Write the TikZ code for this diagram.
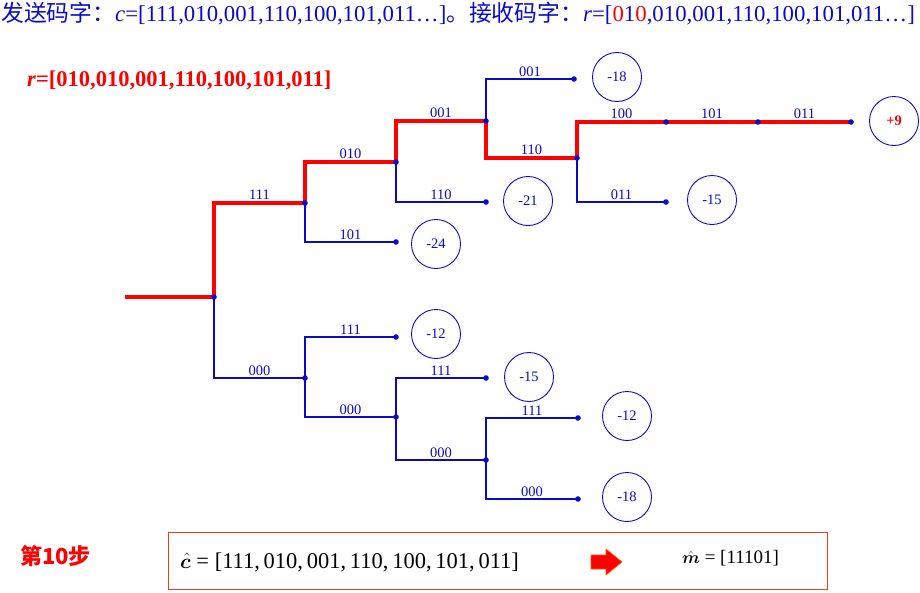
\documentclass[tikz,border=0pt]{standalone}
\usepackage{fontspec}
\usepackage{bm}
\setmainfont{Liberation Serif}
\newfontfamily\cjk{Noto Sans CJK SC}
\definecolor{tblue}{RGB}{10,10,200}
\definecolor{tred}{RGB}{255,0,0}
\definecolor{boxred}{RGB}{240,60,20}
\tikzset{
  br/.style={draw=tblue, line width=1.2pt},
  hot/.style={draw=tred, line width=3.4pt},
  lab/.style={font=\fontsize{14.5}{15}\selectfont, text=tblue, above, inner sep=2pt},
  met/.style={circle, draw=tblue, line width=0.9pt, minimum size=49pt, inner sep=0pt, text=tblue, font=\fontsize{14.5}{15}\selectfont},
}
\begin{document}
\begin{tikzpicture}[x=1pt,y=-1pt]
\useasboundingbox (0,0) rectangle (920,592);
% coordinates
\coordinate (s0) at (125,297);
\coordinate (a) at (214,297);
\coordinate (b) at (305,203);
\coordinate (c) at (305,378);
\coordinate (d) at (396,162);
\coordinate (e) at (396,242);
\coordinate (f) at (486,121);
\coordinate (g) at (486,202);
\coordinate (h) at (574,79);
\coordinate (i) at (577,158);
\coordinate (j) at (666,122);
\coordinate (k) at (758,122);
\coordinate (l) at (851,122);
\coordinate (m) at (666,202);
\coordinate (n) at (396,337);
\coordinate (o) at (396,417);
\coordinate (p) at (486,378);
\coordinate (q) at (486,460);
\coordinate (s) at (578,418);
\coordinate (t) at (578,499);
% blue branches
\draw[br] (b) |- (e) node[lab, pos=0.75] {101};
\draw[br] (d) |- (g) node[lab, pos=0.75] {110};
\draw[br] (f) |- (h) node[lab, pos=0.75] {001};
\draw[br] (i) |- (m) node[lab, pos=0.75] {011};
\draw[br] (a) |- (c) node[lab, pos=0.75] {000};
\draw[br] (c) |- (n) node[lab, pos=0.75] {111};
\draw[br] (c) |- (o) node[lab, pos=0.75] {000};
\draw[br] (o) |- (p) node[lab, pos=0.75] {111};
\draw[br] (o) |- (q) node[lab, pos=0.75] {000};
\draw[br] (q) |- (s) node[lab, pos=0.75] {111};
\draw[br] (q) |- (t) node[lab, pos=0.75] {000};
% red survivor path
\draw[hot] (s0) -- (a);
\draw[hot] (a) |- (b) node[lab, pos=0.75] {111};
\draw[hot] (b) |- (d) node[lab, pos=0.75] {010};
\draw[hot] (d) |- (f) node[lab, pos=0.75] {001};
\draw[hot] (f) |- (i) node[lab, pos=0.75] {110};
\draw[hot] (i) |- (j) node[lab, pos=0.75] {100};
\draw[hot] (j) -- (k) node[lab, midway] {101};
\draw[hot] (k) -- (l) node[lab, midway] {011};
% dots
\foreach \p in {a,b,c,d,e,f,g,h,i,j,k,l,m,n,o,p,q,s,t}
  \fill[tblue] (\p) circle (2.8);
% metric circles
\node[met] (ce) at (436,244) {-24};
\node[met] (cg) at (528,201) {-21};
\node[met] (ch) at (617,77) {-18};
\node[met] (cm) at (712,200) {-15};
\node[met, text=tred, font=\fontsize{14.5}{15}\selectfont\bfseries] (cl) at (894,121) {+9};
\node[met] (cn) at (436,334) {-12};
\node[met] (cp) at (529,377) {-15};
\node[met] (cs) at (627,416) {-12};
\node[met] (ct) at (627,497) {-18};
% title
\node[anchor=west, inner sep=0pt, text=tblue, font=\fontsize{22.8}{24}\selectfont] (title) at (1,14)
  {{\cjk 发送码字：}\textit{c}=[111,010,001,110,100,101,011…]{\cjk 。接收码字：}\textit{r}=[\textcolor{tred}{0}1\textcolor{tred}{0},010,001,110,100,101,011…]};
\node[anchor=west, inner sep=0pt, text=tred, font=\fontsize{22.5}{24}\selectfont\bfseries] (rr) at (27,80)
  {\textit{r}=[010,010,001,110,100,101,011]};
% bottom
\node[anchor=west, inner sep=0pt, text=tred, font=\fontsize{22}{24}\selectfont\cjk\bfseries] (step) at (20,556) {第10步};
\node[draw=boxred, line width=1.2pt, minimum width=659pt, minimum height=57pt, inner sep=0pt, anchor=north west] (box) at (168,532) {};
\node[anchor=west, inner sep=0pt, font=\fontsize{22.5}{24}\selectfont] (chat) at (180,562)
  {$\hat{\bm c}$ = [111,\,010,\,001,\,110,\,100,\,101,\,011]};
\fill[tred, draw=orange!70!red, line width=0.6pt] (591,555) -- (606,555) -- (606,549) -- (622,562) -- (606,575) -- (606,569) -- (591,569) -- cycle;
\node[anchor=west, inner sep=0pt, font=\fontsize{19}{21}\selectfont] (mhat) at (682,558)
  {$\hat{\bm m}$ = [11101]};
\end{tikzpicture}
\end{document}
